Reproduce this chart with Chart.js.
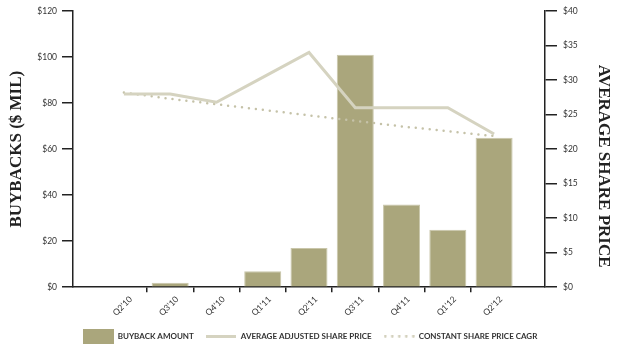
<!DOCTYPE html>
<html lang="en">
<head>
  <meta charset="UTF-8">
  <title>Share Buybacks</title>
  <script src="https://cdn.jsdelivr.net/npm/chart.js"></script>
  <style>
    html, body { margin: 0; padding: 0; background: #fff; }
    .chart-box { width: 620px; height: 350px; }
  </style>
</head>
<body>
  <div class="chart-box"><canvas id="buybackChart"></canvas></div>

  <script>
    // Quarterly buybacks ($ mil) and share price series
    const quarters = ["Q2\u201910", "Q3\u201910", "Q4\u201910", "Q1\u201911", "Q2\u201911", "Q3\u201911", "Q4\u201911", "Q1\u201912", "Q2\u201912"];
    const buybacks = [0, 2, 0, 7, 17, 101, 36, 25, 65];
    const avgSharePrice = [28, 28, 26.8, 30.4, 34, 26, 26, 26, 22.2];
    const cagrSharePrice = [28.2, 27.3, 26.5, 25.7, 24.9, 24.1, 23.3, 22.6, 21.9];

    const barColor = '#aaa67c';
    const lineColor = '#d5d3c0';
    const dotColor = '#c5c2a8';
    const axisColor = '#222';
    const tickFont = { family: 'Lato', size: 8.5 };
    const titleFont = { family: 'Liberation Serif', size: 17, weight: 'bold' };

    const toPoints = (values) => values.map((v, i) => ({ x: i, y: v }));

    // small legend swatches: filled box, solid line, dotted line
    function makeSwatch(w, h, draw) {
      const c = document.createElement('canvas');
      c.width = w;
      c.height = h;
      draw(c.getContext('2d'));
      return c;
    }
    const swatches = [
      makeSwatch(31, 15, g => { g.fillStyle = barColor; g.fillRect(0, 0, 31, 15); }),
      makeSwatch(30, 3, g => { g.fillStyle = lineColor; g.fillRect(0, 0, 30, 3); }),
      makeSwatch(31, 3, g => {
        g.fillStyle = dotColor;
        for (let x = 1.5; x < 31; x += 7) {
          g.beginPath();
          g.arc(x, 1.5, 1.2, 0, Math.PI * 2);
          g.fill();
        }
      })
    ];

    const ctx = document.getElementById('buybackChart').getContext('2d');
    new Chart(ctx, {
      type: 'bar',
      data: {
        datasets: [{
          label: 'BUYBACK AMOUNT',
          data: toPoints(buybacks),
          backgroundColor: barColor,
          borderColor: '#c9c6aa',
          borderWidth: 1,
          categoryPercentage: 0.8,
          barPercentage: 1,
          yAxisID: 'y',
          order: 3
        }, {
          type: 'line',
          label: 'AVERAGE ADJUSTED SHARE PRICE',
          data: toPoints(avgSharePrice),
          borderColor: lineColor,
          borderWidth: 3,
          pointRadius: 0,
          yAxisID: 'y2',
          order: 1
        }, {
          type: 'line',
          label: 'CONSTANT SHARE PRICE CAGR',
          data: toPoints(cagrSharePrice),
          borderColor: dotColor,
          borderWidth: 2.5,
          borderDash: [0, 7],
          borderCapStyle: 'round',
          pointRadius: 0,
          yAxisID: 'y2',
          order: 2
        }]
      },
      options: {
        responsive: true,
        maintainAspectRatio: false,
        animation: false,
        layout: { padding: { top: 7, bottom: 0 } },
        plugins: {
          tooltip: { enabled: false },
          legend: {
            position: 'bottom',
            labels: {
              usePointStyle: true,
              pointStyleWidth: 31,
              padding: 12,
              color: '#333',
              font: { family: 'Lato', size: 8, weight: 'bold' },
              generateLabels: (chart) => {
                const items = Chart.defaults.plugins.legend.labels.generateLabels(chart);
                items.forEach(item => { item.pointStyle = swatches[item.datasetIndex]; });
                return items.sort((a, b) => a.datasetIndex - b.datasetIndex);
              }
            }
          }
        },
        scales: {
          x: {
            type: 'linear',
            min: -1.1,
            max: 9.1,
            offset: false,
            afterBuildTicks: (scale) => { scale.ticks = quarters.map((q, i) => ({ value: i })); },
            ticks: {
              callback: (v) => quarters[v],
              autoSkip: false,
              minRotation: 45,
              maxRotation: 45,
              labelOffset: 7,
              padding: 2,
              color: '#333',
              font: tickFont
            },
            grid: {
              drawOnChartArea: false,
              offset: true,
              tickLength: 5,
              lineWidth: 1.5,
              color: (c) => (c.type !== 'tick' || c.index === 0) ? 'rgba(0,0,0,0)' : axisColor
            },
            border: { color: axisColor, width: 1.5 }
          },
          y: {
            position: 'left',
            min: 0,
            max: 120,
            afterFit: (scale) => { scale.width = 73; },
            ticks: { stepSize: 20, callback: (v) => '$' + v, padding: 5, color: '#333', font: tickFont },
            grid: { drawOnChartArea: false, tickLength: 11, lineWidth: 1.5, color: axisColor },
            border: { color: axisColor, width: 1.5 },
            title: { display: true, text: 'BUYBACKS ($ MIL)', color: axisColor, font: titleFont, padding: { top: 6, bottom: 0 } }
          },
          y2: {
            position: 'right',
            min: 0,
            max: 40,
            afterFit: (scale) => { scale.width = 75; },
            ticks: { stepSize: 5, callback: (v) => '$' + v, padding: 6, color: '#333', font: tickFont },
            grid: { drawOnChartArea: false, tickLength: 12, lineWidth: 1.5, color: axisColor },
            border: { color: axisColor, width: 1.5 },
            // leading spaces push the title a little below the axis centre
            title: { display: true, text: '        AVERAGE SHARE PRICE', color: axisColor, font: titleFont, padding: { top: 6, bottom: 0 } }
          }
        }
      }
    });
  </script>
</body>
</html>
